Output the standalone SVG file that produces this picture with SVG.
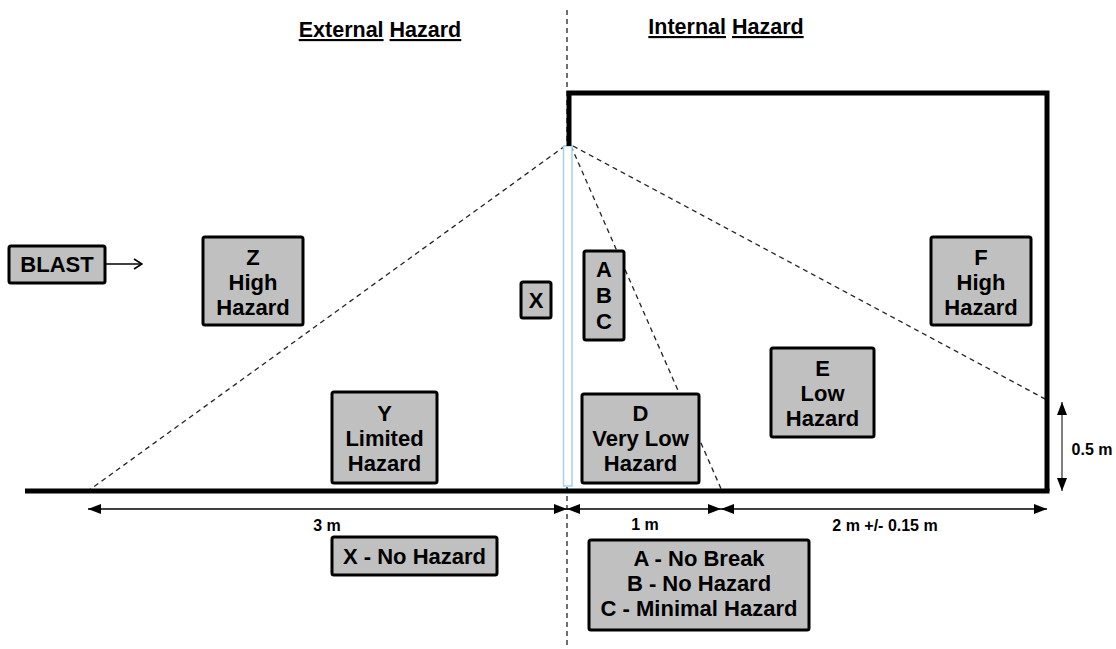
<svg xmlns="http://www.w3.org/2000/svg" width="1116" height="649" viewBox="0 0 1116 649">
<style>
.box{fill:#c0c0c0;stroke:#000;stroke-width:3}
.t{font-family:"Liberation Sans",Arial,sans-serif;font-weight:bold;fill:#000;text-anchor:middle}
.bt{font-size:22px}
.dt{font-size:16px}
.dash{fill:none;stroke:#222;stroke-width:1.3;stroke-dasharray:5 4}
.wall{fill:none;stroke:#000;stroke-width:5}
.dim{stroke:#000;stroke-width:1.3;fill:none}
.u{text-decoration:underline}
</style>
<defs>
<marker id="ah" viewBox="0 0 13 10" refX="13" refY="5" markerWidth="13" markerHeight="10" markerUnits="userSpaceOnUse" orient="auto-start-reverse">
<path d="M0,0 L13,5 L0,10 Z" fill="#000"/>
</marker>
<marker id="open" viewBox="0 0 10 12" refX="9" refY="6" markerWidth="10" markerHeight="12" markerUnits="userSpaceOnUse" orient="auto">
<path d="M1,1 L9,6 L1,11" fill="none" stroke="#000" stroke-width="1.6"/>
</marker>
</defs>
<rect width="1116" height="649" fill="#fff"/>

<g id="headings">
<text class="t" x="380" y="37" font-size="21.5"><tspan class="u">External</tspan> <tspan class="u">Hazard</tspan></text>
<text class="t" x="726" y="34" font-size="21.5"><tspan class="u">Internal</tspan> <tspan class="u">Hazard</tspan></text>
</g>

<g id="connectors">
<line class="dash" x1="567" y1="10" x2="567" y2="649" stroke-width="1" stroke-dasharray="4 3"/>
<line class="dash" x1="565" y1="146" x2="88" y2="491"/>
<line class="dash" x1="571" y1="146" x2="722" y2="491"/>
<line class="dash" x1="573" y1="146" x2="1047" y2="400"/>
<line class="dim" x1="105" y1="264" x2="142" y2="264" marker-end="url(#open)"/>
<line class="dim" x1="88" y1="509" x2="567" y2="509" marker-start="url(#ah)" marker-end="url(#ah)"/>
<line class="dim" x1="567" y1="509" x2="721" y2="509" marker-start="url(#ah)" marker-end="url(#ah)"/>
<line class="dim" x1="721" y1="509" x2="1047" y2="509" marker-start="url(#ah)" marker-end="url(#ah)"/>
<line x1="1062" y1="402" x2="1062" y2="491" stroke="#808080" stroke-width="2" marker-start="url(#ah)" marker-end="url(#ah)"/>
</g>

<g id="building">
<rect x="563.5" y="146" width="8.5" height="340" fill="#fff" stroke="#a8d0ec" stroke-width="1.5"/>
<line class="wall" x1="25" y1="491" x2="1049.5" y2="491"/>
<path class="wall" d="M569,146 V93 H1047 V491"/>
</g>

<g id="dim-labels">
<text class="t dt" x="327" y="531">3 m</text>
<text class="t dt" x="645" y="530">1 m</text>
<text class="t dt" x="885" y="531">2 m +/- 0.15 m</text>
<text class="t dt" x="1092" y="455">0.5 m</text>
</g>

<g id="blast">
<rect class="box" x="9" y="246" width="96" height="37" rx="2"/>
<text class="t bt" x="57" y="272">BLAST</text>
</g>

<g id="z">
<rect class="box" x="203" y="237" width="100" height="88" rx="2"/>
<text class="t bt" x="253" y="265">Z</text>
<text class="t bt" x="253" y="290">High</text>
<text class="t bt" x="253" y="315">Hazard</text>
</g>

<g id="x">
<rect class="box" x="521" y="282" width="30" height="36" rx="2"/>
<text class="t bt" x="536" y="308">X</text>
</g>

<g id="abc">
<rect class="box" x="584" y="251" width="40" height="89" rx="2"/>
<text class="t bt" x="604" y="277">A</text>
<text class="t bt" x="604" y="303">B</text>
<text class="t bt" x="604" y="329">C</text>
</g>

<g id="y">
<rect class="box" x="332" y="392" width="105" height="91" rx="2"/>
<text class="t bt" x="384.5" y="421">Y</text>
<text class="t bt" x="384.5" y="446">Limited</text>
<text class="t bt" x="384.5" y="471">Hazard</text>
</g>

<g id="d">
<rect class="box" x="582" y="394" width="117" height="89" rx="2"/>
<text class="t bt" x="640.5" y="421">D</text>
<text class="t bt" x="640.5" y="446">Very Low</text>
<text class="t bt" x="640.5" y="471">Hazard</text>
</g>

<g id="e">
<rect class="box" x="771" y="348" width="103" height="89" rx="2"/>
<text class="t bt" x="822.5" y="376">E</text>
<text class="t bt" x="822.5" y="401">Low</text>
<text class="t bt" x="822.5" y="426">Hazard</text>
</g>

<g id="f">
<rect class="box" x="931" y="237" width="100" height="88" rx="2"/>
<text class="t bt" x="981" y="265">F</text>
<text class="t bt" x="981" y="290">High</text>
<text class="t bt" x="981" y="315">Hazard</text>
</g>

<g id="legend-x">
<rect class="box" x="332" y="537" width="165" height="38" rx="2"/>
<text class="t bt" x="414.5" y="564">X - No Hazard</text>
</g>

<g id="legend-abc">
<rect class="box" x="589" y="540" width="220" height="90" rx="2"/>
<text class="t bt" x="699" y="566">A - No Break</text>
<text class="t bt" x="699" y="591">B - No Hazard</text>
<text class="t bt" x="699" y="616">C - Minimal Hazard</text>
</g>
</svg>
